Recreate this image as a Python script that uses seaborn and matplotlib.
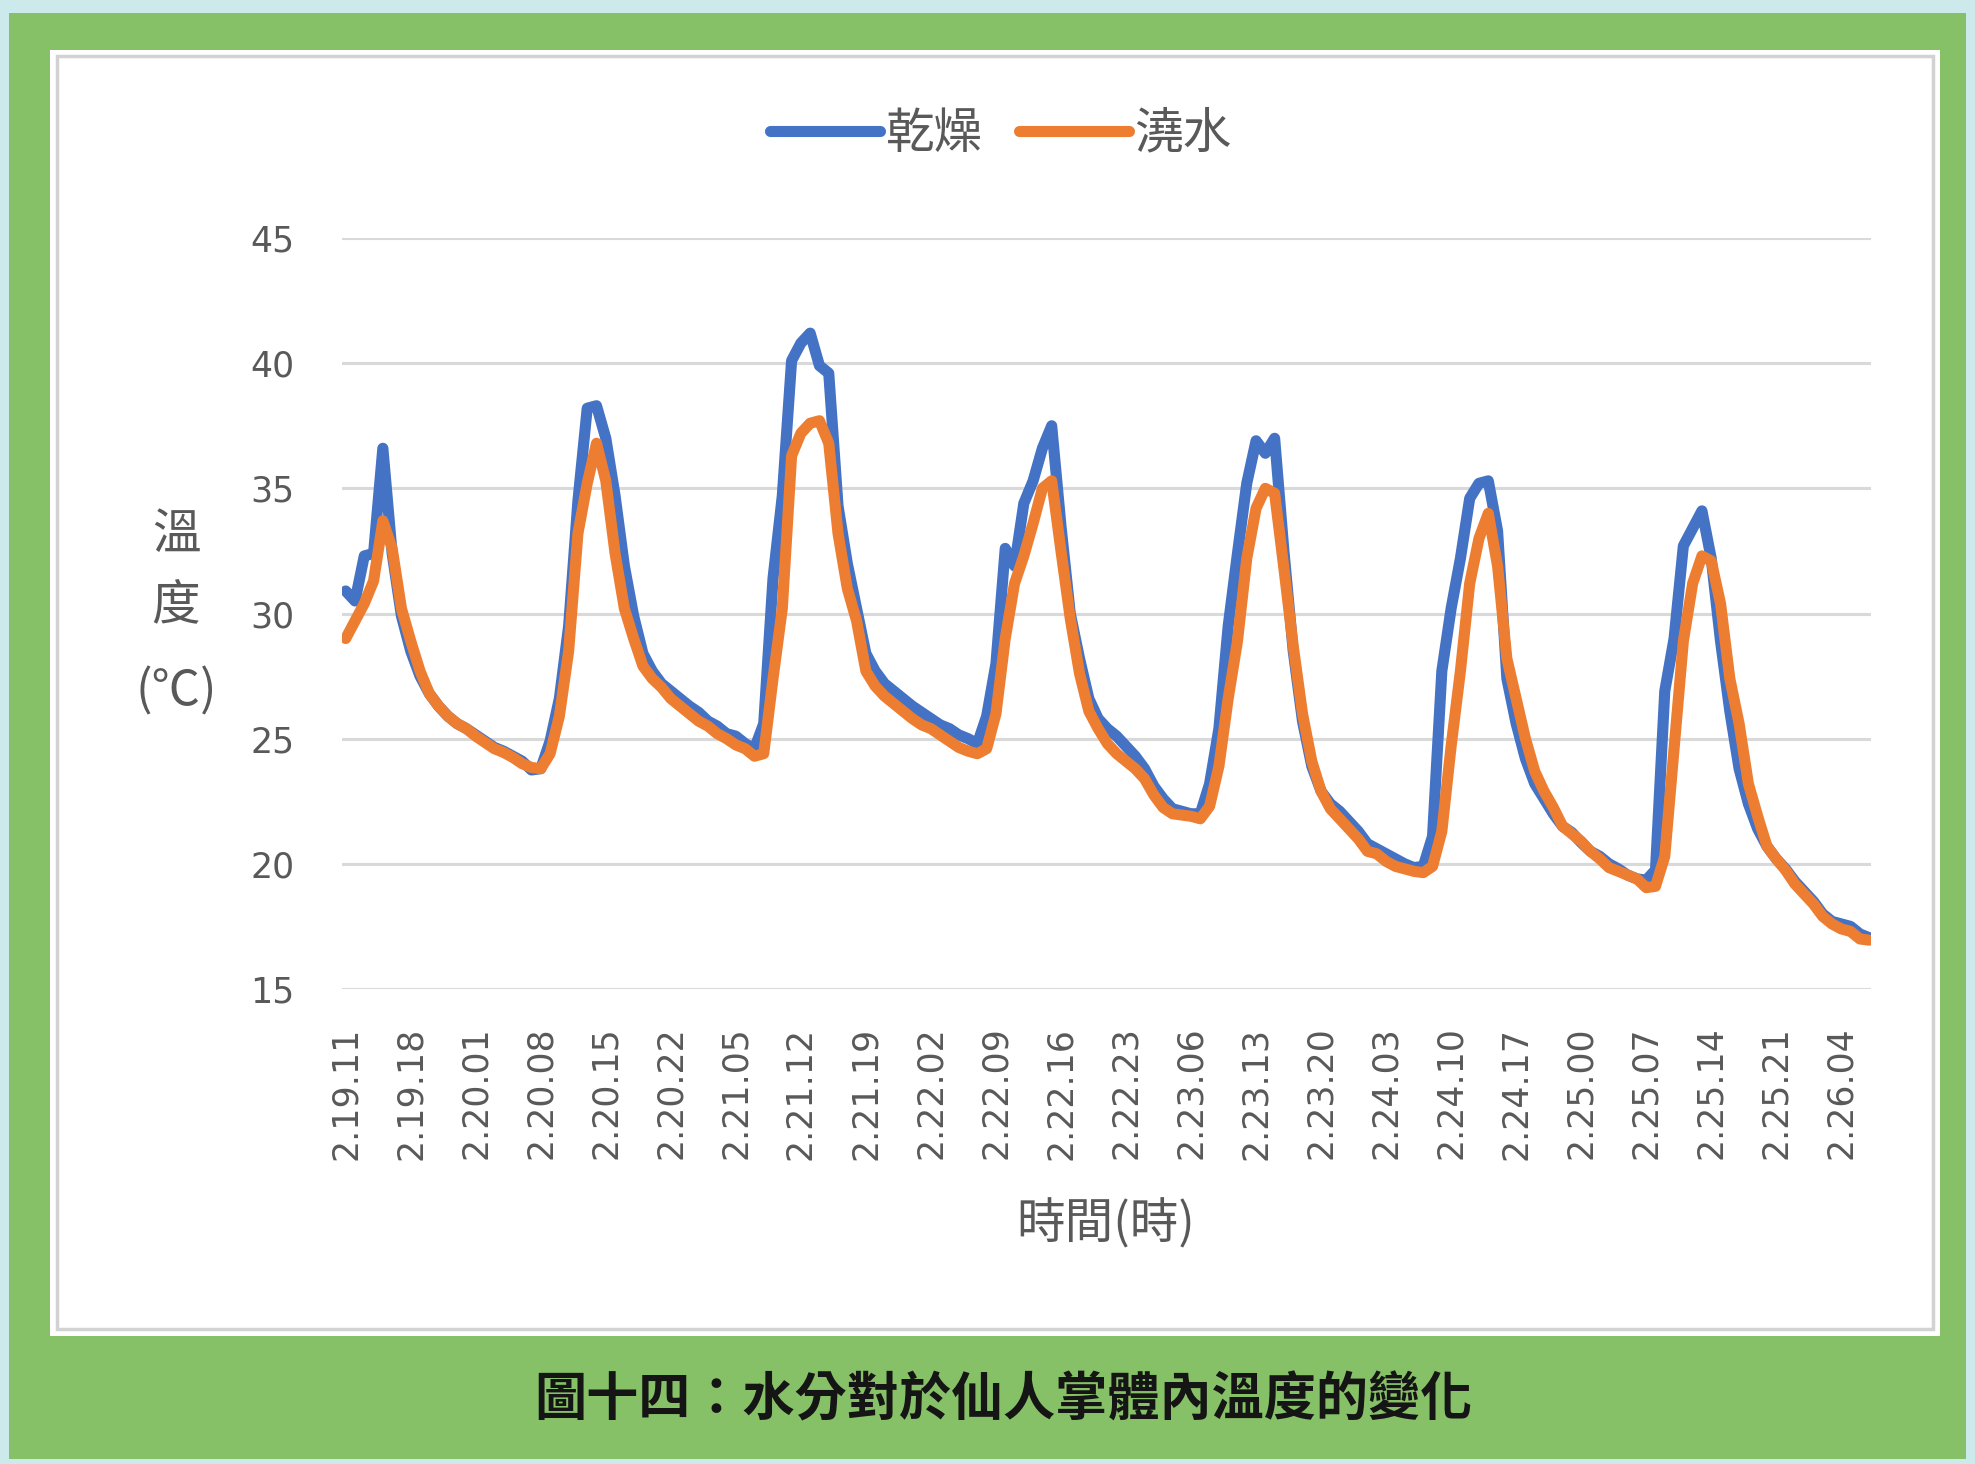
import numpy as np
import pandas as pd
import matplotlib
matplotlib.use("Agg")
import matplotlib.pyplot as plt
from matplotlib.patches import Rectangle
import seaborn as sns

# Hourly body temperature (°C), starting 2.19 11:00
dry = [30.9, 30.5, 32.3, 32.4, 36.6, 32.4, 29.9, 28.5, 27.5, 26.8,
       26.3, 25.9, 25.6, 25.4, 25.15, 24.9, 24.65, 24.5, 24.3, 24.1,
       23.75, 23.8, 24.9, 26.6, 29.5, 34.5, 38.2, 38.3, 37.0, 34.7,
       31.9, 29.9, 28.4, 27.7, 27.2, 26.9, 26.6, 26.3, 26.05, 25.7,
       25.5, 25.2, 25.1, 24.8, 24.6, 25.6, 31.4, 34.7, 40.1, 40.8,
       41.2, 39.9, 39.6, 34.3, 32.0, 30.2, 28.4, 27.7, 27.2, 26.9,
       26.6, 26.3, 26.05, 25.8, 25.55, 25.4, 25.15, 25.0, 24.8, 25.9,
       28.0, 32.6, 31.9, 34.4, 35.3, 36.6, 37.5, 33.5, 30.0, 28.2,
       26.6, 25.8, 25.4, 25.1, 24.7, 24.3, 23.8, 23.1, 22.6, 22.2,
       22.1, 22.0, 22.0, 23.2, 25.4, 29.5, 32.4, 35.2, 36.9, 36.4,
       37.0, 32.5, 28.5, 25.7, 23.9, 22.9, 22.4, 22.1, 21.7, 21.3,
       20.8, 20.6, 20.4, 20.2, 20.0, 19.85, 19.9, 21.1, 27.7, 30.2,
       32.2, 34.6, 35.2, 35.3, 33.3, 27.4, 25.6, 24.2, 23.2, 22.6,
       22.0, 21.5, 21.25, 20.85, 20.5, 20.3, 20.0, 19.8, 19.55, 19.4,
       19.35, 19.75, 26.9, 29.0, 32.7, 33.4, 34.1, 32.2, 28.9, 26.1,
       23.8, 22.4, 21.4, 20.7, 20.2, 19.8, 19.3, 18.9, 18.5, 18.0,
       17.7, 17.6, 17.5, 17.2, 17.05]

watered = [29.0, 29.7, 30.4, 31.3, 33.7, 32.6, 30.2, 28.9, 27.7, 26.8,
           26.3, 25.9, 25.6, 25.4, 25.1, 24.85, 24.6, 24.45, 24.25, 24.0,
           23.85, 23.8, 24.4, 25.9, 28.5, 33.2, 35.2, 36.8, 35.3, 32.4,
           30.2, 29.0, 27.9, 27.4, 27.05, 26.6, 26.3, 26.0, 25.7, 25.5,
           25.2, 25.0, 24.75, 24.6, 24.3, 24.4, 27.4, 30.2, 36.3, 37.2,
           37.6, 37.7, 36.8, 33.2, 31.0, 29.7, 27.7, 27.1, 26.7, 26.4,
           26.1, 25.8, 25.55, 25.4, 25.15, 24.9, 24.65, 24.5, 24.4, 24.6,
           26.0, 29.0, 31.2, 32.3, 33.6, 35.0, 35.3, 32.5, 29.8, 27.6,
           26.1, 25.4, 24.8, 24.4, 24.1, 23.8, 23.4, 22.75, 22.25, 22.0,
           21.95, 21.9, 21.8, 22.3, 23.9, 26.6, 28.9, 32.2, 34.2, 35.0,
           34.8, 31.8, 28.7, 26.0, 24.1, 22.9, 22.2, 21.8, 21.4, 21.0,
           20.5, 20.4, 20.1, 19.9, 19.8, 19.7, 19.65, 19.9, 21.3, 24.7,
           27.7, 31.2, 33.0, 34.0, 31.9, 28.2, 26.6, 25.0, 23.7, 22.9,
           22.25, 21.5, 21.2, 20.9, 20.5, 20.2, 19.85, 19.7, 19.55, 19.4,
           19.05, 19.1, 20.3, 24.6, 28.9, 31.2, 32.3, 32.1, 30.4, 27.4,
           25.6, 23.2, 21.9, 20.7, 20.2, 19.75, 19.2, 18.8, 18.4, 17.9,
           17.6, 17.4, 17.3, 17.0, 16.95]

series_names = ["乾燥", "澆水"]
series_colors = ["#4472C4", "#ED7D31"]

tick_labels = ["2.19.11", "2.19.18", "2.20.01", "2.20.08", "2.20.15", "2.20.22",
               "2.21.05", "2.21.12", "2.21.19", "2.22.02", "2.22.09", "2.22.16",
               "2.22.23", "2.23.06", "2.23.13", "2.23.20", "2.24.03", "2.24.10",
               "2.24.17", "2.25.00", "2.25.07", "2.25.14", "2.25.21", "2.26.04"]
tick_every = 7  # one label every 7 hours
y_ticks = [15, 20, 25, 30, 35, 40, 45]

caption = "圖十四：水分對於仙人掌體內溫度的變化"
x_title = "時間(時)"
y_title = ["溫", "度", "(℃)"]

# ---------------------------------------------------------------------------
sns.set_theme(style="white")
plt.rcParams["font.family"] = ["DejaVu Sans", "Noto Sans CJK TC"]
CJK = ["Noto Sans CJK TC", "DejaVu Sans"]
GREY_TEXT = "#595959"

W, H = 1975, 1464
fig = plt.figure(figsize=(W / 100, H / 100), dpi=100)
fig.patch.set_facecolor("#cce9ec")


def px_rect(x0, y0, x1, y1, z, **kw):
    """Rectangle in pixel coordinates measured from the top-left corner."""
    fig.patches.append(Rectangle((x0 / W, 1 - y1 / H), (x1 - x0) / W, (y1 - y0) / H,
                                 transform=fig.transFigure, zorder=z, **kw))


px_rect(9, 13, 1966, 1459, -5, facecolor="#87c167", edgecolor="none")
px_rect(50, 50, 1940, 1336, -4, facecolor="white", edgecolor="none")
px_rect(57, 56, 1933, 1329, -3, facecolor="none", edgecolor="#d2d2d2", lw=2.5)

ax_l, ax_r, ax_t, ax_b = 341.7, 1871.0, 238.0, 989.0
ax = fig.add_axes([ax_l / W, 1 - ax_b / H, (ax_r - ax_l) / W, (ax_b - ax_t) / H])
ax.set_facecolor("none")

n = len(dry)
df = pd.DataFrame({
    "hour": np.tile(np.arange(n), 2),
    "temp": dry + watered,
    "group": np.repeat(series_names, n),
})

sns.lineplot(data=df, x="hour", y="temp", hue="group", hue_order=series_names,
             palette=dict(zip(series_names, series_colors)), estimator=None,
             linewidth=8.0, ax=ax, solid_capstyle="round", solid_joinstyle="round")

handles, labels = ax.get_legend_handles_labels()
if ax.get_legend() is not None:
    ax.get_legend().remove()
for h in handles:
    h.set_linewidth(8.0)
    h.set_solid_capstyle("round")
leg = fig.legend(handles, labels, loc="center", bbox_to_anchor=(1001 / W, 1 - 134 / H),
                 ncol=2, frameon=False, prop={"family": CJK, "size": 35},
                 handlelength=2.25, handletextpad=0.12, columnspacing=0.75)
for t in leg.get_texts():
    t.set_color(GREY_TEXT)

ax.set_xlim(-0.43, n - 1 + 0.2)
ax.set_ylim(y_ticks[0], y_ticks[-1])
ax.set_yticks(y_ticks)
ax.set_xticks(np.arange(len(tick_labels)) * tick_every)
ax.set_xticklabels(tick_labels, rotation=90)
ax.grid(axis="y", color="#d9d9d9", linewidth=2.2)
ax.grid(axis="x", visible=False)
ax.set_axisbelow(True)
for s in ax.spines.values():
    s.set_visible(False)
ax.tick_params(axis="y", length=0, pad=34, labelsize=25, labelcolor=GREY_TEXT)
ax.tick_params(axis="x", length=0, pad=27, labelsize=25, labelcolor=GREY_TEXT)
ax.set_xlabel("")
ax.set_ylabel("")

fig.text(1106 / W, 1 - 1224 / H, x_title, ha="center", va="center",
         fontsize=35, color=GREY_TEXT, family=CJK)
for txt, ypx in zip(y_title, [535, 605, 692]):
    fig.text(176 / W, 1 - ypx / H, txt, ha="center", va="center",
             fontsize=35, color=GREY_TEXT, family=CJK)

fig.text(1003 / W, 1 - 1400 / H, caption, ha="center", va="center",
         fontsize=37.5, fontweight="bold", color="#151515", family=CJK)

fig.savefig("out.png", dpi=100, facecolor=fig.get_facecolor())
